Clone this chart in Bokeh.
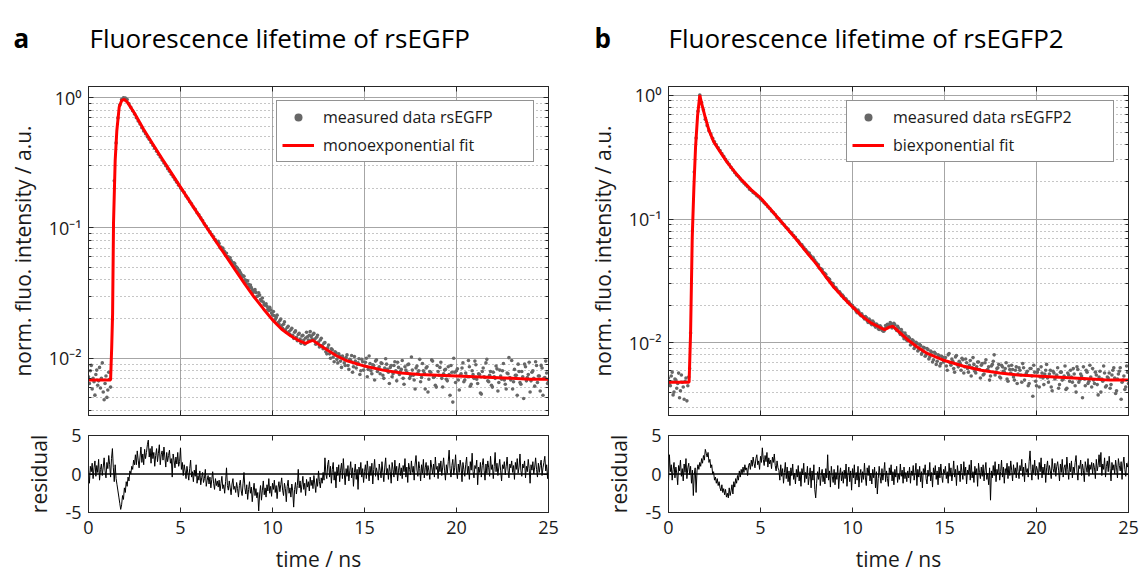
import numpy as np
from bokeh.plotting import figure
from bokeh.layouts import row, column
from bokeh.models import (LinearAxis, LogAxis, FixedTicker, Label, Grid, Span, Range1d)
from bokeh.embed import file_html
from bokeh.resources import INLINE

FONT = "Open Sans"
INK = "#262626"

# ---------------- data ----------------
# measured intensity in units of 1e-4 (normalised), one value per 0.1 ns bin from 0 to 25 ns
DATA_STEP_NS = 0.1
DATA_A = [72, 80, 58, 66, 75, 62, 85, 70, 55, 64, 50, 78, 60,
          200, 2300, 4500, 7000, 8800, 9700, 10000, 9950,
          9700, 9000, 8450, 7950, 7500,
          7020, 6620, 6280, 5890, 5560, 5300, 5010, 4790, 4530, 4310, 4090, 3890, 3680, 3510, 3320,
          3160, 3010, 2850, 2730, 2590, 2470, 2350, 2240, 2130, 2030,
          1950, 1870, 1760, 1690, 1600, 1530, 1450, 1390, 1310, 1260, 1195, 1140, 1075, 1030, 980,
          935, 890, 855, 810, 775,
          760, 715, 700, 655, 640, 600, 590, 545, 540, 505,
          490, 470, 440, 430, 400, 395, 370, 365, 335, 330,
          320, 300, 305, 275, 270, 255, 250, 232, 235, 215,
          212, 205, 188, 195, 178, 182, 165, 172, 160, 165,
          150, 158, 145, 152, 140, 148, 138, 143, 146, 150,
          147, 152, 140, 145, 133, 138, 125, 130,
          112, 120, 108, 118, 102, 112, 98, 108, 95, 104,
          92, 101, 88, 98, 105, 86, 95, 90, 99, 80,
          94, 87, 100, 82, 91, 76, 88, 95, 79, 86,
          92, 74, 84, 90, 78, 85, 72, 88, 80, 93,
          75, 82, 70, 86, 78, 90, 73, 81, 68, 84,
          77, 98, 71, 80, 58, 86, 69, 78, 95, 72,
          60, 79, 85, 70, 76, 82, 67, 75, 88, 46,
          78, 80, 68, 74, 84, 66, 77, 72, 86, 63,
          75, 95, 69, 76, 54, 79, 72, 92, 67, 74,
          62, 78, 70, 83, 65, 73, 80, 68, 58, 76,
          71, 96, 66, 74, 52, 79, 63, 72, 90, 67,
          75, 55, 78, 70, 94, 65, 73, 88, 52, 71,
          77, 66]
# the bins in between (x.x5 ns) before the rise and in the noisy tail
PRE_START_NS = 0.05
PRE_A = [64, 88, 70, 52, 81, 67, 59, 92, 48, 73, 57, 69]
HALF_START_NS = 7.05
HALF_A = [790, 705, 690, 668, 615, 598, 570, 562, 520, 530,
          498, 462, 455, 418, 425, 380, 392, 352, 348, 320,
          336, 298, 318, 282, 290, 258, 262, 238, 246, 222,
          228, 198, 214, 184, 200, 170, 190, 158, 176, 152,
          170, 142, 162, 136, 155, 130, 150, 128, 158, 138,
          160, 140, 155, 128, 150, 122, 142, 118, 132, 108,
          126, 100, 116, 94, 110, 92, 104, 85, 100, 88,
          106, 82, 96, 78, 103, 84, 92, 75, 98, 81,
          93, 72, 104, 80, 89, 68, 97, 83, 76, 91,
          70, 99, 82, 64, 88, 76, 94, 67, 85, 79,
          96, 63, 81, 89, 70, 102, 74, 58, 87, 80,
          66, 91, 77, 84, 55, 79, 97, 71, 62, 88,
          74, 93, 60, 81, 69, 86, 52, 78, 100, 65,
          83, 57, 76, 92, 68, 73, 96, 61, 80, 70,
          89, 64, 75, 53, 84, 71, 98, 66, 79, 60,
          72, 87, 56, 81, 69, 91, 63, 77, 101, 68,
          58, 82, 74, 90, 65, 79, 49, 86, 71, 93,
          67, 80, 61, 88, 73, 56, 84, 70, 95, 64]

DATA_B = [52, 45, 58, 40, 50, 47, 36, 55, 44, 49, 34, 53,
          120, 800, 2400, 4500, 7400, 10000, 8700, 7600,
          6400, 5700, 5150, 4850, 4480, 4200, 3970, 3760, 3570, 3370,
          3210, 3040, 2890, 2760, 2610, 2490, 2370, 2270, 2200, 2100,
          2020, 1950, 1880, 1820, 1740, 1700, 1640, 1600, 1540, 1505,
          1450, 1405, 1350, 1310, 1255, 1215, 1160, 1125, 1085, 1030,
          1005, 965, 925, 895, 855, 830, 790, 770, 735, 712,
          675, 650, 622, 600, 570, 552, 525, 510, 482, 470,
          445, 430, 402, 395, 372, 362, 338, 330, 310, 302,
          283, 278, 262, 258, 240, 238, 228, 219, 215, 204,
          200, 192, 180, 184, 170, 172, 160, 163, 151, 156,
          143, 150, 138, 142, 130, 137, 127, 124, 138, 141,
          136, 143, 137, 140, 126, 131, 117, 122, 108, 115,
          104,
          109, 98, 104, 93, 99, 88, 95, 84, 91, 80,
          88, 77, 84, 73, 82, 71, 79, 68, 76, 72,
          65, 80, 69, 74, 62, 77, 67, 71, 60, 73,
          64, 69, 58, 72, 63, 67, 57, 70, 61, 66,
          55, 69, 60, 64, 54, 67, 80, 58, 63, 53,
          66, 59, 62, 51, 65, 57, 61, 50, 64, 56,
          60, 48, 63, 55, 59, 47, 62, 37, 58, 45,
          61, 53, 57, 46, 60, 52, 56, 44, 59, 51,
          55, 43, 58, 50, 54, 42, 57, 49, 53, 62,
          45, 64, 48, 56, 36, 51, 60, 47, 66, 44,
          50, 58, 46, 53, 40, 49, 57, 45, 52, 43,
          55, 63, 39, 51, 59, 35, 50, 42, 65, 47]
PRE_B = [46, 54, 38, 51, 43, 57, 41, 48, 35, 52, 45, 62]
HALF_B = [668, 630, 618, 585, 566, 540, 530, 498, 490, 462,
          440, 426, 398, 390, 366, 356, 333, 326, 303, 300,
          278, 270, 257, 250, 243, 228, 226, 212, 208, 200,
          190, 188, 175, 178, 166, 165, 156, 160, 146, 152,
          140, 146, 134, 139, 128, 134, 125, 130, 134, 140,
          146, 132, 144, 130, 136, 121, 128, 113, 120, 105,
          112, 96, 106, 90, 101, 86, 97, 81, 92, 78,
          90, 74, 86, 70, 84, 67, 80, 65, 78, 70,
          76, 60, 82, 66, 71, 58, 79, 64, 68, 75,
          57, 74, 62, 66, 54, 76, 59, 64, 70, 52,
          68, 56, 73, 61, 50, 65, 71, 55, 62, 67,
          52, 64, 58, 69, 49, 61, 66, 53, 60, 47,
          63, 55, 68, 50, 57, 45, 62, 54, 66, 49,
          58, 44, 64, 52, 56, 67, 48, 60, 41, 57,
          53, 63, 46, 58, 51, 65, 43, 55, 60, 48,
          56, 40, 61, 50, 54, 64, 45, 58, 49, 53,
          62, 47, 55, 38, 59, 51, 65, 44, 53, 57,
          46, 60, 52, 41, 56, 63, 48, 54, 44, 58]

# fitted curves (time in ns, normalised intensity)
FIT_A_T = [0, 1.2, 1.26, 1.31, 1.36, 1.45, 1.54, 1.67, 1.8, 1.94,
           2.1, 2.5, 3, 3.5, 4, 4.5, 5, 5.5, 6, 6.5,
           7, 7.5, 8, 8.5, 9, 9.5, 10, 10.5, 11, 11.5,
           11.8, 12.0, 12.2, 12.5, 13, 13.5, 14, 15, 16, 17,
           18, 19, 20, 21, 22, 23, 24, 25]
FIT_A_Y = [0.0068, 0.0068, 0.012, 0.022, 0.11, 0.33, 0.56, 0.85, 0.95, 0.97,
           0.93, 0.76, 0.57, 0.44, 0.34, 0.265, 0.206, 0.16, 0.125, 0.097,
           0.076, 0.06, 0.047, 0.037, 0.0295, 0.024, 0.0197, 0.0167, 0.0148, 0.0135,
           0.0130, 0.0134, 0.0137, 0.0128, 0.0115, 0.0104, 0.0096, 0.0087, 0.0081, 0.0077,
           0.0075, 0.0074, 0.0073, 0.0072, 0.0071, 0.0070, 0.0069, 0.0069]
FIT_B_T = [0, 1.12, 1.2, 1.29, 1.38, 1.47, 1.58, 1.70, 1.8, 2.0,
           2.2, 2.46, 2.8, 3.19, 3.6, 4, 4.5, 5, 5.5, 6,
           6.5, 7, 7.5, 8, 8.5, 9, 9.5, 10, 10.5, 11,
           11.5, 11.75, 12.0, 12.2, 12.5, 13, 13.5, 14, 15, 16,
           17, 18, 19, 20, 21, 22, 23, 24, 25]
FIT_B_Y = [0.0048, 0.0048, 0.012, 0.071, 0.18, 0.38, 0.68, 1.0, 0.86, 0.66,
           0.52, 0.42, 0.35, 0.287, 0.24, 0.205, 0.172, 0.148, 0.122, 0.1,
           0.082, 0.067, 0.054, 0.044, 0.035, 0.028, 0.0232, 0.0195, 0.0165, 0.0145,
           0.0133, 0.0128, 0.0134, 0.0136, 0.0124, 0.0106, 0.0093, 0.0083, 0.0072, 0.0065,
           0.0060, 0.0057, 0.0055, 0.0054, 0.0053, 0.0052, 0.0051, 0.0050, 0.0050]

# weighted residuals x10, one value per 0.05 ns from 0 to 25 ns
RES_STEP_NS = 0.05
RES_A = [5, -12, 10, 3, 14, -6, 8, 17, -3, 11, 2, 19, -8, 6, 13, -2, 9, 21, 4, -5, 15, 7, 24, 12, -4,
         20, 33, 8, -10, 12, -6, -14, -22, -30, -38, -46, -40, -28, -33, -18, -24, -10, -16, -4, -9,
         4, 0, 10, 6, 18, 12,
         25, 12, 30, 18, 8, 22, 35, 15, 26, 12, 32, 20, 28, 38, 44, 22, 33, 14, 36, 20,
         28, 10, 24, 33, 16, 27, 38, 12, 25, 30, 18, 35, 22, 9, 28, 16, 24, 31, 14, 20,
         -4, 26, 18, 8, 22, 13, 28, 10, 16, 34,
         6, 15, -2, 12, 4, -6, 10, 1, -8, 7, 18, -4, 3, -10, 5, -3, 12, -12, -2, -8,
         4, -14, -5, 2, -11, -6, 6, -16, -8, -2, -13, -4, -18, -7, 3, -12, -20, -6, -15, -9,
         -17, -8, -22, -12, -3, -19, -14, -25, -10, 8, -15, -21, -9, -18, -27, -13, -6, -20, -16, -24,
         -11, -19, -30, -15, -8, -22, -28, -12, 2, -18, -26, -14, -33, -20, -10, -25, -17, -36, -22, -12,
         -28, -19, -31, -24, -48, -26, -15, -34, -21, -9, -27, -18, -30, -14, -22, -6, -25, -16, -29, -12,
         -20, -8, -24, -15, -32, -18, -10, -23, -14, -5, -21, -28, -12, -19, -36, -16, -8, -25, -18, -30,
         -13, -22, -43, -20, -11, -26, -15, 6, -18, -9, -24, -14, -3, -20, -12, -28, -7, -17, -10, -22,
         -4, -15, -8, -19, -2, -13, -24, -6, -16, 4,
         -10, -18, -5, -12, 2, -8, 21, 0, -6, 12,
         18, -4, 10, -12, 6, 15, -8, 3, -18, 9, -2, 12, -10, 5, 14, -6, 20, 1, -14, 7,
         -3, 11, -9, 4, 16, -5, 8, -16, 2, 13, -7, 6, -20, 9, 0, 15, -4, 7, -11, 3,
         12, -6, 17, 4, -9, 10, -2, 14, -13, 6, 19, -3, 8, 1, -8, 13, 5, -5, 16, 2,
         -10, 9, 21, -1, 7, -7, 12, 3, -12, 15, 6, -4, 18, 0, 10, -9, 5, 14, -2, 8,
         -6, 11, 3, 20, -4, 9, -11, 14, 6, -1, 17, 2, 10, -8, 13, 24, 5, -3, 16, 7,
         -9, 12, 1, 19, -5, 8, 15, -2, 11, 4, -7, 18, 9, 0, 13, -4, 22, 6, 10, -6,
         14, 3, 17, -2, 9, 21, 5, -8, 12, 1, 16, 31, 7, -4, 11, 19, -1, 8, 25, 4,
         -6, 13, 2, 18, 9, -10, 15, 6, -3, 12, 22, 0, 10, -7, 16, 5, 27, 3, -5, 11,
         7, 18, -14, 9, 2, 15, -4, 11, 20, 5, -8, 13, 1, 17, 8, -3, 23, 6, 12, -6,
         10, 28, 3, 14, -2, 9, 19, 4, -9, 12, 7, 16, -1, 10, 22, 5, -5, 13, 8, 17,
         2, 11, -7, 15, 6, 20, 1, 9, 26, 4, -3, 13, 8, 17, -5, 10, 3, 19, 7, -12,
         12, 5, 16, 0, 9, 21, 6, -4, 14, 2, 11, 18, -2, 8, 15, 23, 4, 12, -6, 10]

RES_B = [-10, 25, 3, 12, -8, 6, 15, -5, 9, 1, -14, 11, 4, 18, -3, 7, -9, 13, 2, 20,
         -6, 8, 14, -1, 10, -12, 5, -28, 0,
         8, -24, 4, 12, 6, 15, 10, 20, 14, 24, 18, 32, 27, 22, 28, 15, 19, 8, 12, 0, 3, -8,
         -4, -12, -6, -15, -10, -18, -22, -14, -24, -19, -27, -20, -30, -25, -31, -18, -28, -22, -14, -26,
         -10, -17, -6,
         -12, -2, -8, 4, -4, 6, 0, 9, 2, 12, 5, 8, -2, 11, 14, 6,
         18, 10, 22, 14, 8, 20, 25, 12, 17, 6, 23, 15, 34, 19, 11, 24, 16, 28, 9, 21,
         13, 18, 7, 22, 15, 26, 11, 4, 17, 8,
         5, -8, 12, -3, 7, -12, 2, 15, -6, 9, -10, 4, -15, 8, -2, 13, -7, 1, -13, 6,
         -4, 11, -9, 3, -16, 7, -1, 14, -11, 2, -6, 10, -14, -3, 8, -18, 4, -8, 12, -20,
         -31, -12, 3, -7, 9, -15, -2, 6, -10, 1, -13, 7, -5, 25, -8, 4, -17, 10, -3, -11,
         6, -14, 2, -7, 11, -19, -1, 8, -9, 3, -12, 5, -6, 13, -16, 0, 9, -10, 4, -21,
         7, -5, 12, -13, 2, -8, 10, -17, -1, 6, -11, 3, -7, 14, -4, -15, 8, -2, 11, -9,
         1, -13, 6, -5, 9, -18, 3, -26, -6, 10, -3, -12, 7, -8, 2, 15, -10, 4, -6, -16,
         8, -1, 12, -9, 3, -14, 6, -4, 10, -11, 0, -7, 13, -3, 5, -12, 9, -6, 2, -10,
         4,
         -5, 9, -12, 4, -2, 11, -8, 1, 14, -15, 6, -4, 10, -10, 3, -18, 7, 0, 12, -6,
         -13, 5, -3, 15, -9, 2, -17, 8, -1, 11, -7, 4, -14, 9, -5, 13, -2, -11, 6, 1,
         10, -6, 3, -12, 14, -3, 8, -9, 1, 17, -4, 6, -15, 11, -1, 4, -10, 13, 2, -7,
         16, -2, 9, -13, 5, 0, 12, -8, 18, -5, 3, -11, 10, -1, 7, -16, 14, 2, -6, 9,
         -3, 12, -9, 5, 15, -7, 1, -14, 8, -34, 4, -5, 11, -2, 16, -10, 6, 0, 13, -8,
         3, 18, -4, 9, -12, 7, 1, 14, -6, 10, -2, 17, 5, -9, 12, 0, 8, -5, 15, 3,
         -6, 11, 4, 19, -3, 9, -10, 14, 2, 7, -4, 16, 30, 6, -8, 12, 1, 18, -2, 10,
         5, -7, 15, 3, 21, -5, 9, 0, 13, -11, 8, 17, -1, 11, 4, -6, 20, 7, 2, 14,
         -3, 10, 16, 5, -9, 13, 2, 19, -4, 8, 12, -1, 22, 6, -7, 14, 3, 17, -5, 9,
         1, 15, 24, 4, -8, 11, 7, 18, -2, 13, 5, -10, 16, 9, 2, 20, -3, 12, 6, 15,
         0, 14, 8, -6, 19, 4, 11, 25, 9, 28, -2, 13, 6, 21, -4, 10, 17, 3, 23, 7,
         -9, 15, 5, 12, 0, 18, 8, -5, 20, 11, 4, 16, -7, 13, 22, 6, -3, 14, 9, 17]

X_TICKS = [0, 5, 10, 15, 20, 25]
Y_MAJOR = [0.01, 0.1, 1.0]
Y_MINOR = [0.002, 0.003, 0.004, 0.005, 0.006, 0.007, 0.008, 0.009,
           0.02, 0.03, 0.04, 0.05, 0.06, 0.07, 0.08, 0.09,
           0.2, 0.3, 0.4, 0.5, 0.6, 0.7, 0.8, 0.9]
Y_LABELS = {0.01: "10⁻²", 0.1: "10⁻¹", 1.0: "10⁰"}
RES_TICKS = [-5, 0, 5]
PANEL_LETTERS = ["a", "b"]
PANEL_TITLES = ["Fluorescence lifetime of rsEGFP", "Fluorescence lifetime of rsEGFP2"]

FRAME_W = 460
MAIN_H = 329
RES_H = 77
HEAD_H = 80
PAGE_W = 1139


def style_axis(ax, show_labels=True, minor=False):
    ax.axis_line_color = INK
    ax.axis_line_width = 1
    ax.major_tick_line_color = INK
    ax.major_tick_in = 5
    ax.major_tick_out = 0
    if minor:
        ax.minor_tick_line_color = INK
        ax.minor_tick_in = 3
        ax.minor_tick_out = 0
    else:
        ax.minor_tick_line_color = None
    ax.major_label_text_font = FONT
    ax.major_label_text_color = "#1a1a1a"
    ax.axis_label_text_font = FONT
    ax.axis_label_text_font_style = "normal"
    ax.axis_label_text_font_size = "21px"
    ax.axis_label_text_color = "#1a1a1a"
    ax.major_label_text_font_size = "18px"
    if not show_labels:
        ax.major_label_text_font_size = "1px"
        ax.major_label_text_color = None
        ax.major_label_standoff = 0


def header():
    h = figure(width=PAGE_W, height=HEAD_H, x_range=Range1d(0, PAGE_W), y_range=Range1d(0, HEAD_H),
               min_border=0, x_axis_location=None, y_axis_location=None,
               output_backend="svg", toolbar_location=None)
    h.outline_line_color = None
    h.grid.visible = False
    for letter, title, lx, tx in zip(PANEL_LETTERS, PANEL_TITLES, [13, 594], [89, 668]):
        h.add_layout(Label(x=lx, y=HEAD_H - 37, text=letter, text_font=FONT,
                           text_font_style="bold", text_font_size="26px", text_color="black",
                           text_baseline="alphabetic"))
        h.add_layout(Label(x=tx, y=HEAD_H - 37, text=title, text_font=FONT,
                           text_font_size="26px", text_color="black", text_baseline="alphabetic"))
    return h


def main_panel(data, pre, half, fit_t, fit_y, yr, data_label, fit_label, left, right, label_width):
    t = np.concatenate([np.arange(len(data)) * DATA_STEP_NS,
                        PRE_START_NS + np.arange(len(pre)) * DATA_STEP_NS,
                        HALF_START_NS + np.arange(len(half)) * DATA_STEP_NS])
    y = np.array(list(data) + list(pre) + list(half)) * 1e-4
    p = figure(frame_width=FRAME_W, frame_height=MAIN_H,
               min_border_left=left, min_border_right=right,
               min_border_top=6, min_border_bottom=3,
               x_range=Range1d(0, 25), y_range=Range1d(*yr),
               y_axis_type="log", x_axis_location=None, y_axis_location=None,
               output_backend="svg", toolbar_location=None)
    p.outline_line_color = INK
    p.background_fill_color = "white"
    p.border_fill_color = "white"

    yt = FixedTicker(ticks=Y_MAJOR, minor_ticks=Y_MINOR)
    xt = FixedTicker(ticks=X_TICKS)
    p.add_layout(Grid(dimension=0, ticker=xt, grid_line_color="#a6a6a6", grid_line_width=1))
    p.add_layout(Grid(dimension=1, ticker=yt, grid_line_color="#a6a6a6", grid_line_width=1,
                      minor_grid_line_color="#8c8c8c", minor_grid_line_dash="1 3"))

    ly = LogAxis(ticker=yt, axis_label="norm. fluo. intensity / a.u.",
                 major_label_overrides=Y_LABELS, major_label_standoff=7, axis_label_standoff=9)
    style_axis(ly, True, True)
    p.add_layout(ly, "left")
    ry = LogAxis(ticker=yt)
    style_axis(ry, False, True)
    p.add_layout(ry, "right")
    bx = LinearAxis(ticker=xt)
    style_axis(bx, False)
    p.add_layout(bx, "below")
    tx = LinearAxis(ticker=xt)
    style_axis(tx, False)
    p.add_layout(tx, "above")

    p.scatter(t, y, size=3.6, fill_color="#676767", line_color=None, legend_label=data_label)
    p.line(fit_t, fit_y, color="#ff0000", line_width=3, legend_label=fit_label)

    lg = p.legend[0]
    lg.location = "top_right"
    lg.margin = 14
    lg.border_line_color = INK
    lg.border_line_width = 1
    lg.background_fill_alpha = 1
    lg.label_text_font = FONT
    lg.label_text_font_size = "16px"
    lg.label_text_color = "#1a1a1a"
    lg.glyph_width = 32
    lg.glyph_height = 20
    lg.label_height = 20
    lg.label_width = label_width
    lg.label_standoff = 9
    lg.spacing = 6
    lg.padding = 5
    return p


def res_panel(res, left, right):
    t = np.arange(len(res)) * RES_STEP_NS
    r = np.array(res) / 10.0
    p = figure(frame_width=FRAME_W, frame_height=RES_H,
               min_border_left=left, min_border_right=right,
               min_border_top=17, min_border_bottom=66,
               x_range=Range1d(0, 25), y_range=Range1d(-5, 5),
               x_axis_location=None, y_axis_location=None,
               output_backend="svg", toolbar_location=None)
    p.outline_line_color = INK
    p.grid.visible = False
    xt = FixedTicker(ticks=X_TICKS)
    yt = FixedTicker(ticks=RES_TICKS)
    bx = LinearAxis(ticker=xt, axis_label="time / ns", major_label_standoff=8,
                    axis_label_standoff=8)
    style_axis(bx, True)
    p.add_layout(bx, "below")
    tx = LinearAxis(ticker=xt)
    style_axis(tx, False)
    p.add_layout(tx, "above")
    ly = LinearAxis(ticker=yt, axis_label="residual", major_label_standoff=7,
                    axis_label_standoff=9, major_label_overrides={-5: "-5", 0: "0", 5: "5"})
    style_axis(ly, True)
    p.add_layout(ly, "left")
    ry = LinearAxis(ticker=yt)
    style_axis(ry, False)
    p.add_layout(ry, "right")
    p.add_layout(Span(location=0, dimension="width", line_color="black", line_width=1.5))
    p.line(t, r, color="black", line_width=1)
    return p


head = header()
pa = main_panel(DATA_A, PRE_A, HALF_A, FIT_A_T, FIT_A_Y, (0.00363, 1.22),
                "measured data rsEGFP", "monoexponential fit", 88, 22, 205)
pb = main_panel(DATA_B, PRE_B, HALF_B, FIT_B_T, FIT_B_Y, (0.00259, 1.175),
                "measured data rsEGFP2", "biexponential fit", 98, 11, 215)
ra = res_panel(RES_A, 88, 22)
rb = res_panel(RES_B, 98, 11)

layout = column(head, row(column(pa, ra), column(pb, rb)))
open("out.html", "w").write(file_html(layout, INLINE))
